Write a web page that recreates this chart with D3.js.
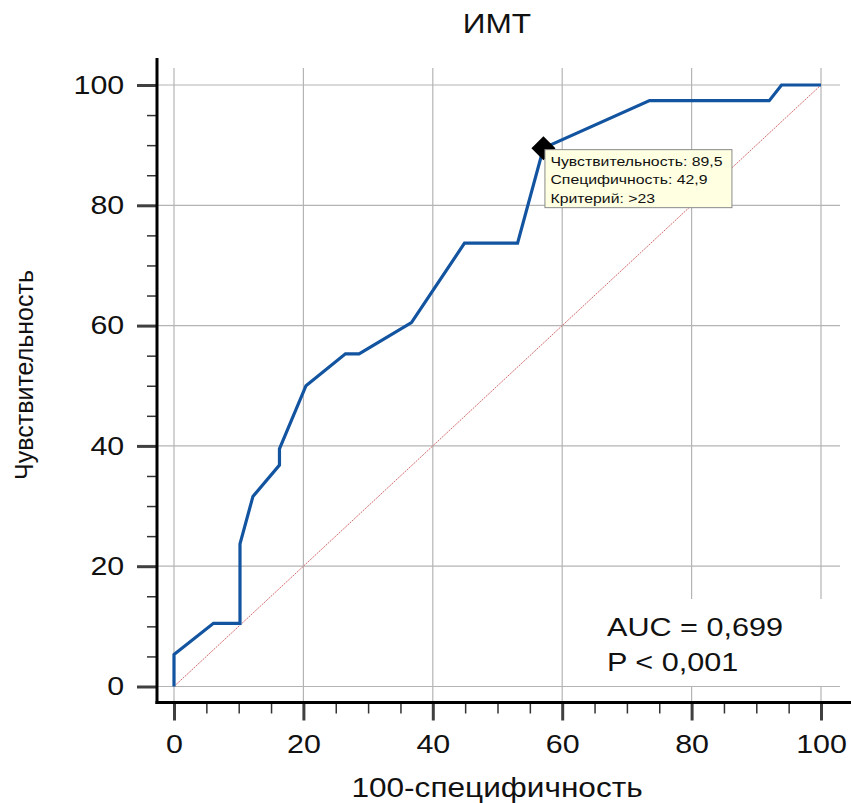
<!DOCTYPE html>
<html>
<head>
<meta charset="utf-8">
<script src="https://cdn.jsdelivr.net/npm/d3@7"></script>
<style>
  body { margin: 0; background: #fff; }
  svg { display: block; font-family: "Liberation Sans", Arial, sans-serif; }
</style>
</head>
<body>
<div id="chart"></div>
<script>
// ROC curve points: 100-specificity (x) and sensitivity (y)
const fpr  = [0, 0,   6.1,  10.2, 10.2, 12.2, 16.3, 16.3, 20.4, 26.5, 28.6, 36.7, 44.9, 53.1, 57.1, 73.5, 92.0, 93.9, 100];
const sens = [0, 5.3, 10.5, 10.5, 23.7, 31.6, 36.8, 39.5, 50.0, 55.3, 55.3, 60.5, 73.7, 73.7, 89.5, 97.4, 97.4, 100,  100];
const majorTicks = [0, 20, 40, 60, 80, 100];
const minorTicks = d3.range(0, 101, 5).filter(d => d % 20 !== 0);
const cutoff = {x: 57.1, y: 89.5};
const tipLines = ['Чувствительность: 89,5', 'Специфичность: 42,9', 'Критерий: >23'];
const statLines = ['AUC = 0,699', 'P < 0,001'];

const width = 851, height = 803;
const sx = 1.17; // the text in the picture is a bit wider than it is tall
const svg = d3.select('#chart').append('svg')
    .attr('width', width)
    .attr('height', height);

const x = d3.scaleLinear().domain([0, 100]).range([174, 821]);
const y = d3.scaleLinear().domain([0, 100]).range([686.5, 85]);
const axisX = 157, axisY = 702.5;

// grid
svg.append('g').selectAll('line')
    .data(majorTicks)
    .join('line')
        .attr('x1', d => x(d)).attr('x2', d => x(d))
        .attr('y1', 68).attr('y2', axisY)
        .attr('stroke', '#b4b4b4').attr('stroke-width', 1.2);
svg.append('g').selectAll('line')
    .data(majorTicks)
    .join('line')
        .attr('x1', axisX).attr('x2', 840)
        .attr('y1', d => y(d)).attr('y2', d => y(d))
        .attr('stroke', '#b4b4b4').attr('stroke-width', 1.2);

// white box behind the AUC text
svg.append('rect')
    .attr('x', 587).attr('y', 599)
    .attr('width', 236).attr('height', 87)
    .attr('fill', '#fff');

svg.append('g')
    .attr('font-size', 25.5)
    .attr('fill', '#111')
    .selectAll('text')
    .data(statLines)
    .join('text')
        .attr('transform', (d, i) => `translate(607,${636 + i * 35}) scale(1.2,1)`)
        .text(d => d);

// diagonal reference
svg.append('line')
    .attr('x1', x(0)).attr('y1', y(0))
    .attr('x2', x(100)).attr('y2', y(100))
    .attr('stroke', '#d46a6a')
    .attr('stroke-width', 1)
    .attr('stroke-dasharray', '2,1');

// ROC curve
const line = d3.line()
    .x((d, i) => x(fpr[i]))
    .y((d, i) => y(sens[i]));
svg.append('path')
    .attr('d', line(fpr))
    .attr('fill', 'none')
    .attr('stroke', '#1254a0')
    .attr('stroke-width', 3.2)
    .attr('stroke-linejoin', 'miter');

// cut-off marker
svg.append('path')
    .attr('d', d3.symbol(d3.symbolSquare, 289)())
    .attr('transform', `translate(${x(cutoff.x)},${y(cutoff.y)}) rotate(45)`)
    .attr('fill', '#000');

// tooltip
const tip = svg.append('g')
    .attr('transform', `translate(${x(cutoff.x) + 1},${y(cutoff.y) + 1})`);
tip.append('rect')
    .attr('x', 0.5).attr('y', 0.5)
    .attr('width', 187).attr('height', 58)
    .attr('fill', '#ffffe1')
    .attr('stroke', '#8a8a8a');
tip.selectAll('text')
    .data(tipLines)
    .join('text')
        .attr('transform', (d, i) => `translate(6,${17 + i * 18.3}) scale(${sx},1)`)
        .attr('font-size', 13.5)
        .attr('fill', '#111')
        .text(d => d);

// axes
function styleAxis(g, w, col) {
    g.select('.domain').remove();
    g.selectAll('.tick line').attr('stroke', col).attr('stroke-width', w);
}
svg.append('g')
    .attr('transform', `translate(${axisX},0)`)
    .call(d3.axisLeft(y).tickValues(minorTicks).tickSize(10).tickFormat(''))
    .call(g => styleAxis(g, 1.5, '#333'));
svg.append('g')
    .attr('transform', `translate(${axisX},0)`)
    .call(d3.axisLeft(y).tickValues(majorTicks).tickSize(20).tickPadding(8).tickFormat(d3.format('d')))
    .call(g => styleAxis(g, 3, '#404040'))
    .call(g => g.selectAll('text')
        .attr('font-size', 26).attr('fill', '#111').attr('font-family', null)
        .attr('transform', `scale(${sx},1)`));
svg.append('g')
    .attr('transform', `translate(0,${axisY})`)
    .call(d3.axisBottom(x).tickValues(minorTicks).tickSize(11).tickFormat(''))
    .call(g => styleAxis(g, 1.5, '#333'));
svg.append('g')
    .attr('transform', `translate(0,${axisY})`)
    .call(d3.axisBottom(x).tickValues(majorTicks).tickSize(18).tickPadding(14).tickFormat(d3.format('d')))
    .call(g => styleAxis(g, 3, '#404040'))
    .call(g => g.selectAll('text')
        .attr('font-size', 26).attr('fill', '#111').attr('font-family', null)
        .attr('transform', `scale(${sx},1)`));

// axis lines
svg.append('line')
    .attr('x1', axisX).attr('x2', axisX)
    .attr('y1', 58).attr('y2', axisY + 1.5)
    .attr('stroke', '#000').attr('stroke-width', 3);
svg.append('line')
    .attr('x1', axisX - 1.5).attr('x2', width)
    .attr('y1', axisY).attr('y2', axisY)
    .attr('stroke', '#000').attr('stroke-width', 3);

// titles
svg.append('text')
    .attr('transform', `translate(497,33) scale(${sx},1)`)
    .attr('text-anchor', 'middle')
    .attr('font-size', 27)
    .attr('fill', '#111')
    .text('ИМТ');
svg.append('text')
    .attr('transform', `translate(497,797) scale(${sx},1)`)
    .attr('text-anchor', 'middle')
    .attr('font-size', 27)
    .attr('fill', '#111')
    .text('100-специфичность');
svg.append('text')
    .attr('transform', 'translate(33,375) rotate(-90)')
    .attr('text-anchor', 'middle')
    .attr('font-size', 25)
    .attr('fill', '#111')
    .text('Чувствительность');
</script>
</body>
</html>
